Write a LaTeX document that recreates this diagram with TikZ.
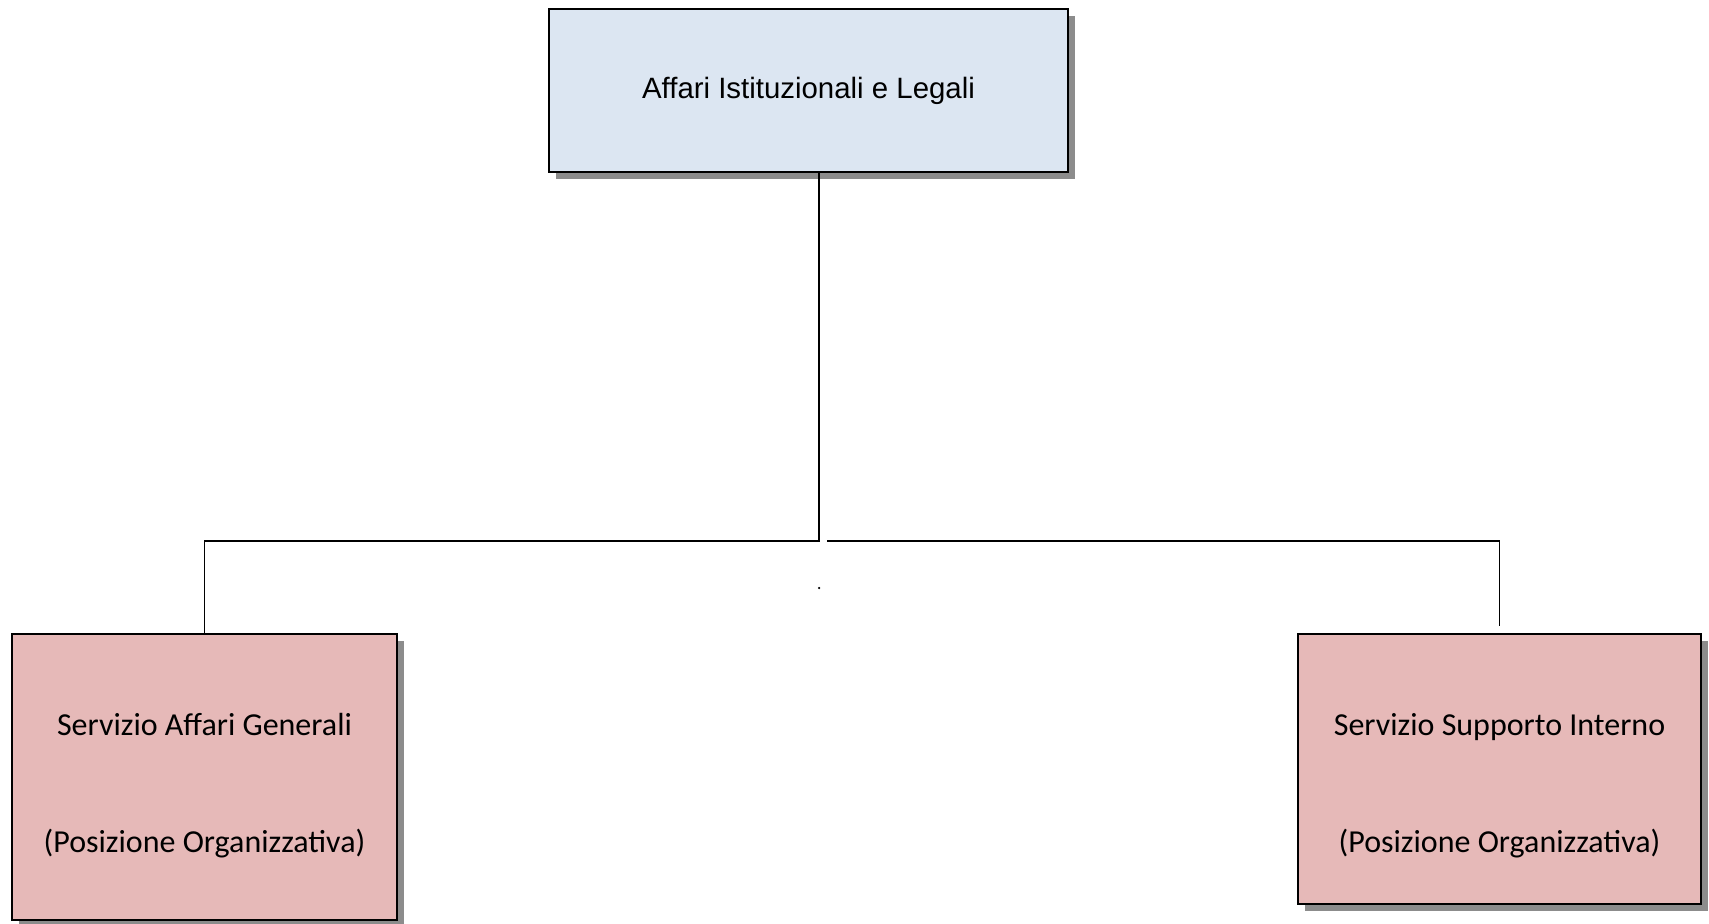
\documentclass[tikz,border=0pt]{standalone}
\usepackage{fontspec}
\setmainfont{Liberation Sans}
\newfontfamily\calibrifam{Carlito}
\usetikzlibrary{shadows}
\definecolor{topfill}{HTML}{DCE6F2}
\definecolor{unitfill}{HTML}{E6B9B8}
\definecolor{shadowgray}{HTML}{8C8C8C}
\begin{document}
\begin{tikzpicture}[x=1pt,y=-1pt,
  box/.style={draw=black, line width=2pt, rectangle, inner sep=0pt,
    drop shadow={shadow xshift=7pt, shadow yshift=-7pt, fill=shadowgray, opacity=1}},
  headbox/.style={box, fill=topfill, minimum width=519pt, minimum height=163pt},
  unitbox/.style={box, fill=unitfill},
  link/.style={line width=1.8pt, draw=black},
  headtext/.style={font=\fontsize{29.4}{35}\selectfont, inner sep=0pt},
  unittext/.style={font=\calibrifam\fontsize{32}{38}\selectfont, inner sep=0pt, anchor=base}]
  \useasboundingbox (0,0) rectangle (1709,924);

  % organisational units
  \node[headbox] (head) at (808.5,90.5) {};
  \node[unitbox, minimum width=385pt, minimum height=286pt] (gen) at (204.5,777) {};
  \node[unitbox, minimum width=403pt, minimum height=270pt] (sup) at (1499.5,769) {};

  \node[headtext] (headname) at (head.center) {Affari Istituzionali e Legali};
  \node[unittext] (genname) at (204.5,735) {Servizio Affari Generali};
  \node[unittext] (genrole) at (204.5,852) {(Posizione Organizzativa)};
  \node[unittext] (supname) at (1499.5,735) {Servizio Supporto Interno};
  \node[unittext] (suprole) at (1499.5,852) {(Posizione Organizzativa)};

  % connectors
  \coordinate (hub) at (819,541);
  \coordinate (hubR) at (827,541);
  \draw[link] (head.south -| hub) -- (hub) -| (gen.north);
  \draw[link, shorten >=7pt] (hubR) -| (sup.north);

  \node[circle, fill=black, inner sep=0pt, minimum size=2.5pt] (mark) at (819,588) {};
\end{tikzpicture}
\end{document}
